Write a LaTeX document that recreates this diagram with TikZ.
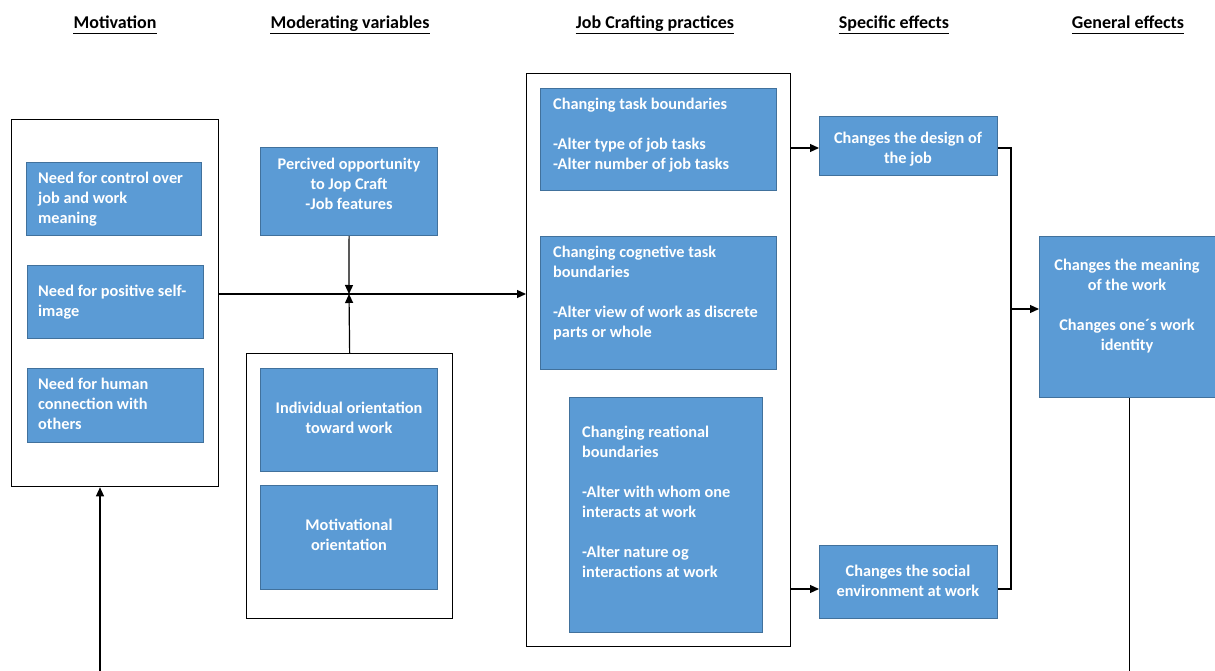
\documentclass[tikz,border=0pt]{standalone}
\usepackage{fontspec}
\setmainfont{Carlito}
\usetikzlibrary{arrows.meta}
\definecolor{boxfill}{HTML}{5B9BD5}
\definecolor{boxedge}{HTML}{41719C}
\begin{document}
\begin{tikzpicture}[x=1pt,y=-1pt,
  bluebox/.style={draw=boxedge, fill=boxfill, line width=1.2pt, inner sep=0pt, anchor=north west},
  frame/.style={draw=black, line width=1.3pt, inner sep=0pt, anchor=north west},
  heading/.style={font=\fontsize{18pt}{21pt}\bfseries\selectfont, inner sep=0pt, anchor=base},
  uline/.style={draw=black, line width=1.1pt},
  btxt/.style={font=\fontsize{16.3pt}{20pt}\bfseries\selectfont, text=white, inner sep=0pt},
  ltxt/.style={btxt, align=left, anchor=north west},
  ctxt/.style={btxt, align=center, anchor=north},
  conn/.style={draw=black, line width=1.2pt},
  arr/.style={conn, -{Triangle[length=9pt,width=8pt]}}]
\useasboundingbox (0,0) rectangle (1215,671);

% headings
\node[heading] (h1) at (115,29) {Motivation};
\node[heading] (h2) at (350,29) {Moderating variables};
\node[heading] (h3) at (655,29) {Job Crafting practices};
\node[heading] (h4) at (894,29) {Specific effects};
\node[heading] (h5) at (1128,29) {General effects};
\foreach \h in {h1,h2,h3,h4,h5}
  \draw[uline] ([yshift=-4.5pt]\h.base west) -- ([yshift=-4.5pt]\h.base east);

% Motivation
\node[frame, minimum width=207pt, minimum height=367pt] (mframe) at (11,119) {};
\node[bluebox, minimum width=175pt, minimum height=73pt] (m1) at (26,162) {};
\node[bluebox, minimum width=176pt, minimum height=73pt] (m2) at (27,265) {};
\node[bluebox, minimum width=176pt, minimum height=74pt] (m3) at (27,368) {};
\node[ltxt] (m1t) at (38,171.5) {Need for control over\\job and work\\meaning};
\node[ltxt] (m2t) at (38,284.5) {Need for positive self-\\image};
\node[ltxt] (m3t) at (38,377.5) {Need for human\\connection with\\others};

% Moderating
\node[bluebox, minimum width=177pt, minimum height=88pt] (perc) at (260,147) {};
\node[ctxt] (perct) at (349,157.5) {Percived opportunity\\to Jop Craft\\-Job features};
\node[frame, minimum width=206pt, minimum height=265pt] (modframe) at (246,353) {};
\node[bluebox, minimum width=177pt, minimum height=103pt] (indiv) at (260,368) {};
\node[bluebox, minimum width=177pt, minimum height=104pt] (motiv) at (260,485) {};
\node[ctxt] (indivt) at (349,401.5) {Individual orientation\\toward work};
\node[ctxt] (motivt) at (349,519) {Motivational\\orientation};

% Job crafting
\node[frame, minimum width=264pt, minimum height=573pt] (jframe) at (526,73) {};
\node[bluebox, minimum width=236pt, minimum height=102pt] (task) at (540,88) {};
\node[bluebox, minimum width=236pt, minimum height=133pt] (cogn) at (540,236) {};
\node[bluebox, minimum width=193pt, minimum height=235pt] (rel) at (569,397) {};
\node[ltxt] (taskt) at (553,97.5) {Changing task boundaries\\[20pt]-Alter type of job tasks\\-Alter number of job tasks};
\node[ltxt] (cognt) at (553,245.5) {Changing cognetive task\\boundaries\\[20pt]-Alter view of work as discrete\\parts or whole};
\node[ltxt] (relt) at (582,425.5) {Changing reational\\boundaries\\[20pt]-Alter with whom one\\interacts at work\\[20pt]-Alter nature og\\interactions at work};

% Specific effects
\node[bluebox, minimum width=178pt, minimum height=59pt] (design) at (819,116) {};
\node[ctxt] (designt) at (908,131.5) {Changes the design of\\the job};
\node[bluebox, minimum width=178pt, minimum height=73pt] (social) at (819,545) {};
\node[ctxt] (socialt) at (908,564.5) {Changes the social\\environment at work};

% General effects
\node[bluebox, minimum width=180pt, minimum height=161pt] (general) at (1039,236) {};
\node[ctxt] (generalt) at (1127,258.5) {Changes the meaning\\of the work\\[20pt]Changes one´s work\\identity};

% connectors
\coordinate (jn) at (349,294);
\coordinate (bot) at (100,671);
\coordinate (gbot) at (1128,671);
\coordinate (dy) at (0,148);
\coordinate (sy) at (0,589);
\coordinate (bus) at (1011,309);
\draw[arr] (mframe.east |- jn) -- (jframe.west |- jn);
\draw[arr] (perc.south) -- (jn);
\draw[arr] (modframe.north) -- (jn);
\draw[arr] (bot) -- (bot |- mframe.south);
\draw[arr] (jframe.east |- dy) -- (design.west |- dy);
\draw[arr] (jframe.east |- sy) -- (social.west |- sy);
\draw[conn] (design.east |- dy) -| (bus);
\draw[conn] (social.east |- sy) -| (bus);
\draw[arr] (bus) -- (general.west |- bus);
\draw[conn] (gbot -| general.south) -- (general.south);
\end{tikzpicture}
\end{document}
